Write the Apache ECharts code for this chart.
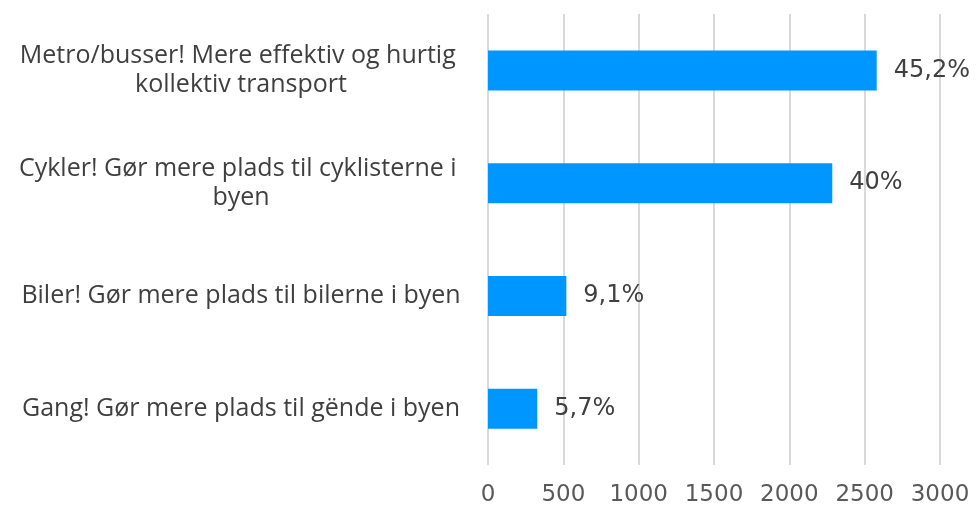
<!DOCTYPE html>
<html>
<head>
<meta charset="utf-8">
<script src="https://cdn.jsdelivr.net/npm/echarts@6/dist/echarts.min.js"></script>
<style>
  html, body { margin: 0; padding: 0; background: #fff; }
  #chart { width: 979px; height: 507px; }
</style>
</head>
<body>
<div id="chart"></div>
<script>
var categories = [
    "Metro/busser! Mere effektiv og hurtig kollektiv transport",
    "Cykler! Gør mere plads til cyklisterne i byen",
    "Biler! Gør mere plads til bilerne i byen",
    "Gang! Gør mere plads til gënde i byen"
];
var counts = [2580, 2285, 520, 327];
var shares = ["45,2%", "40%", "9,1%", "5,7%"];
var xTicks = [0, 500, 1000, 1500, 2000, 2500, 3000];

var font = "'Open Sans', sans-serif";
var numFont = "'DejaVu Sans', sans-serif";
var chart = echarts.init(document.getElementById('chart'));
chart.setOption({
    animation: false,
    textStyle: { fontFamily: font },
    grid: { left: 488, right: 39, top: 14, bottom: 42, containLabel: false },
    xAxis: {
        type: 'value',
        min: xTicks[0],
        max: xTicks[xTicks.length - 1],
        interval: 500,
        axisLine: { show: false },
        axisTick: { show: false },
        splitLine: { show: true, lineStyle: { color: '#d9d9d9', width: 2 } },
        axisLabel: {
            color: '#595959', fontSize: 23, margin: 19, fontFamily: numFont,
            formatter: function (v) { return String(v); }
        }
    },
    yAxis: {
        type: 'category',
        inverse: true,
        data: categories,
        axisLine: { show: false },
        axisTick: { show: false },
        axisLabel: {
            color: '#3f3f3f',
            fontSize: 25,
            lineHeight: 29,
            width: 462,
            overflow: 'break',
            align: 'center',
            margin: 247,
            fontFamily: font
        }
    },
    series: [{
        type: 'bar',
        data: counts,
        barWidth: 40,
        itemStyle: { color: '#0096ff' },
        label: {
            show: true,
            position: 'right',
            distance: 17,
            color: '#404040',
            fontSize: 24,
            fontFamily: numFont,
            formatter: function (p) { return shares[p.dataIndex]; }
        }
    }]
});
</script>
</body>
</html>
